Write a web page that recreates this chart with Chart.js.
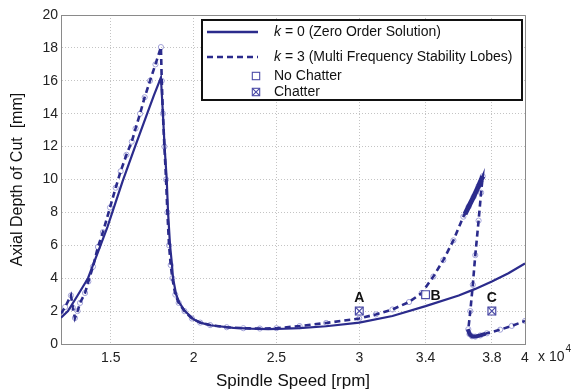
<!DOCTYPE html>
<html>
<head>
<meta charset="utf-8">
<script src="https://cdn.jsdelivr.net/npm/chart.js@4.4.1/dist/chart.umd.min.js"></script>
<style>
body{margin:0;background:#fff}
#wrap{width:573px;height:392px}
</style>
</head>
<body>
<div id="wrap"><canvas id="chart"></canvas></div>
<script>

// ------------------------------
// DATA (speed in x10^4 rpm, depth in mm)
// ------------------------------

const speedTicks = [1.5, 2, 2.5, 3, 3.4, 3.8, 4]

// k = 0, zero order solution
const k0Speed = [1.20,1.242,1.30,1.363,1.435,1.48,1.526,1.572,1.647,1.72,1.76,1.803,
    1.815,1.825,1.838,1.846,1.858,1.868,1.876,1.895,1.915,1.948,2.00,2.04,2.10,2.24,2.35,2.45,2.55,2.64,2.80,3.00,3.20,3.40,3.60,3.70,3.80,3.90,4.00]
const k0Depth = [1.6,2.0,2.95,4.0,5.9,7.1,8.5,9.9,12.0,14.0,15.1,16.2,
    14.0,12.0,10.0,8.0,6.0,5.0,4.0,3.0,2.5,2.0,1.5,1.3,1.14,0.98,0.93,0.91,0.93,0.97,1.08,1.3,1.7,2.3,2.95,3.35,3.8,4.3,4.9]

// k = 3, multi frequency stability lobes
const k3Speed = [1.20,1.225,1.26,1.272,1.284,1.30,1.315,1.345,1.365,1.393,1.423,1.453,1.496,1.53,1.56,1.595,1.627,1.65,1.677,1.705,1.737,1.77,1.803,
    1.808,1.815,1.824,1.834,1.842,1.852,1.862,1.872,1.89,1.91,1.945,1.99,2.04,2.10,2.20,2.30,2.40,2.50,2.64,2.80,3.00,3.10,3.20,3.30,3.377,3.447,3.507,3.568,3.628,3.66,3.69,3.72,3.745,
    3.735,3.72,3.70,3.685,3.67,3.658,3.665,3.68,3.70,3.73,3.77,3.85,3.92,4.00]
const k3Depth = [1.85,2.25,2.95,2.2,1.58,2.0,2.5,3.1,3.8,4.7,5.9,6.8,8.3,9.5,10.5,11.5,12.3,13.1,14.0,15.0,16.0,17.0,18.05,
    16.0,14.0,12.0,10.0,8.0,6.0,4.8,4.0,3.0,2.5,2.0,1.55,1.3,1.15,1.02,0.96,0.94,0.96,1.09,1.28,1.55,1.8,2.1,2.55,3.1,4.1,5.1,6.3,7.74,8.35,8.95,9.6,10.2,
    9.2,7.5,5.4,3.6,2.0,0.9,0.6,0.47,0.45,0.52,0.65,0.87,1.1,1.4]

// dense parts of the k = 3 curve (many overlapping points)
const peakBandSpeed = [3.638,3.66,3.69,3.72,3.745]
const peakBandDepth = [7.9,8.35,8.95,9.6,10.2]
const troughBandSpeed = [3.655,3.665,3.68,3.70,3.73,3.76]
const troughBandDepth = [0.9,0.6,0.47,0.45,0.52,0.62]

// cutting tests
const testLabels = ["A","B","C"]
const testSpeed = [3.0, 3.4, 3.8]
const testDepth = [2.0, 3.0, 2.0]
const testChatter = [true, false, true]

// ------------------------------
// STYLE
// ------------------------------

const NAVY = "#2b2b8c"
const LAVENDER = "#a3a3d8"
const FONT = '"Liberation Sans", Arial, sans-serif'

Chart.defaults.font.family = FONT

const pts = (xs, ys) => xs.map((x,i) => ({x:x, y:ys[i]}))

// ------------------------------
// PLUGINS
// ------------------------------

const framePlugin = {
    id:"frame",
    beforeDatasetsDraw(chart){
        const {ctx, chartArea:a} = chart
        ctx.save()
        ctx.strokeStyle = "#8a8a8a"
        ctx.lineWidth = 1
        ctx.beginPath()
        ctx.moveTo(a.left, a.top + 0.5)
        ctx.lineTo(a.right + 0.5, a.top + 0.5)
        ctx.lineTo(a.right + 0.5, a.bottom)
        ctx.stroke()
        ctx.restore()
    }
}

const labelPlugin = {
    id:"testLabels",
    afterDatasetsDraw(chart){
        const {ctx, scales} = chart
        ctx.save()
        ctx.font = "bold 14px " + FONT
        ctx.fillStyle = "#111"
        ctx.textBaseline = "middle"
        testLabels.forEach((t,i) => {
            const px = scales.x.getPixelForValue(testSpeed[i])
            const py = scales.y.getPixelForValue(testDepth[i])
            if(t === "B"){
                ctx.textAlign = "left"
                ctx.fillText(t, px + 5, py + 1)
            } else {
                ctx.textAlign = "center"
                ctx.fillText(t, px, py - 13)
            }
        })

        // exponent label of the x axis
        ctx.font = "14px " + FONT
        ctx.textAlign = "left"
        ctx.fillStyle = "#222"
        ctx.fillText("x 10", 538, 357)
        const w = ctx.measureText("x 10").width
        ctx.font = "10px " + FONT
        ctx.fillText("4", 538 + w + 1, 349)
        ctx.restore()
    }
}

function drawSquare(ctx, x, y, cross){
    const s = 3.7
    ctx.strokeStyle = "#4b4ba6"
    ctx.lineWidth = 1.1
    ctx.strokeRect(x - s, y - s, 2*s, 2*s)
    if(cross){
        ctx.beginPath()
        ctx.moveTo(x - s, y - s); ctx.lineTo(x + s, y + s)
        ctx.moveTo(x + s, y - s); ctx.lineTo(x - s, y + s)
        ctx.stroke()
    }
}

function drawKText(ctx, rest, x, y){
    ctx.font = "italic 14px " + FONT
    ctx.fillText("k", x, y)
    const w = ctx.measureText("k").width
    ctx.font = "14px " + FONT
    ctx.fillText(rest, x + w, y)
}

const legendPlugin = {
    id:"lobeLegend",
    afterDraw(chart){
        const ctx = chart.ctx
        ctx.save()
        ctx.fillStyle = "#fff"
        ctx.fillRect(202, 20, 320, 80)
        ctx.strokeStyle = "#111"
        ctx.lineWidth = 2
        ctx.strokeRect(202, 20, 320, 80)

        ctx.strokeStyle = NAVY
        ctx.lineWidth = 2.4
        ctx.beginPath(); ctx.moveTo(207, 32); ctx.lineTo(258, 32); ctx.stroke()
        ctx.lineWidth = 2.6
        ctx.setLineDash([6,4])
        ctx.beginPath(); ctx.moveTo(207, 57); ctx.lineTo(258, 57); ctx.stroke()
        ctx.setLineDash([])

        drawSquare(ctx, 256, 76, false)
        drawSquare(ctx, 256, 92, true)

        ctx.fillStyle = "#111"
        ctx.textBaseline = "middle"
        ctx.textAlign = "left"
        drawKText(ctx, " = 0 (Zero Order Solution)", 274, 32)
        drawKText(ctx, " = 3 (Multi Frequency Stability Lobes)", 274, 57)
        ctx.font = "14px " + FONT
        ctx.fillText("No Chatter", 274, 76)
        ctx.fillText("Chatter", 274, 92)
        ctx.restore()
    }
}

// ------------------------------
// CHART
// ------------------------------

const testPoints = pts(testSpeed, testDepth)
const chatterPoints = testPoints.filter((p,i) => testChatter[i])

const chart = new Chart(document.getElementById("chart"), {
    type:"scatter",
    data:{
        datasets:[
            {
                label:"k = 0",
                data:pts(k0Speed, k0Depth),
                showLine:true,
                borderColor:NAVY,
                borderWidth:2.2,
                pointRadius:0,
                tension:0,
                order:0
            },
            {
                label:"k = 3",
                data:pts(k3Speed, k3Depth),
                showLine:true,
                borderColor:NAVY,
                borderWidth:2.6,
                borderDash:[6,4],
                pointRadius:0,
                tension:0,
                order:1
            },
            {
                label:"k = 3 dense peak",
                data:pts(peakBandSpeed, peakBandDepth),
                showLine:true,
                borderColor:NAVY,
                borderWidth:5,
                pointRadius:0,
                order:2
            },
            {
                label:"k = 3 dense trough",
                data:pts(troughBandSpeed, troughBandDepth),
                showLine:true,
                borderColor:NAVY,
                borderWidth:4,
                pointRadius:0,
                order:2
            },
            {
                label:"k = 3 points",
                data:pts(k3Speed, k3Depth),
                showLine:false,
                pointStyle:"circle",
                pointRadius:2.6,
                pointBorderWidth:1,
                pointBorderColor:LAVENDER,
                pointBackgroundColor:"rgba(255,255,255,0)",
                order:3
            },
            {
                label:"tests",
                data:testPoints,
                pointStyle:"rect",
                pointRadius:5.5,
                pointBorderWidth:1.2,
                pointBorderColor:"#4b4ba6",
                pointBackgroundColor:"rgba(255,255,255,0.9)",
                order:-1
            },
            {
                label:"chatter",
                data:chatterPoints,
                pointStyle:"crossRot",
                pointRadius:5.5,
                pointBorderWidth:1.1,
                pointBorderColor:"#4b4ba6",
                order:-2
            }
        ]
    },
    options:{
        responsive:true,
        maintainAspectRatio:false,
        animation:false,
        layout:{padding:{left:0, right:48, top:15, bottom:0}},
        plugins:{
            legend:{display:false},
            tooltip:{enabled:false}
        },
        scales:{
            x:{
                type:"linear",
                min:1.2,
                max:4.0,
                afterBuildTicks:(scale) => { scale.ticks = speedTicks.map(v => ({value:v})) },
                afterFit:(scale) => { scale.height = 48 },
                ticks:{
                    autoSkip:false,
                    maxRotation:0,
                    padding:6,
                    color:"#222",
                    font:{size:14},
                    callback:(v) => String(v)
                },
                grid:{color:"#c4c4c4", drawTicks:false},
                border:{color:"#8a8a8a", dash:[1,2]},
                title:{
                    display:true,
                    text:"Spindle Speed [rpm]",
                    color:"#111",
                    font:{size:17},
                    padding:{top:0, bottom:0}
                }
            },
            y:{
                min:0,
                max:20,
                afterFit:(scale) => { scale.width = 61 },
                ticks:{
                    stepSize:2,
                    padding:3,
                    color:"#222",
                    font:{size:14}
                },
                grid:{color:"#c4c4c4", drawTicks:false},
                border:{color:"#8a8a8a", dash:[1,2]},
                title:{
                    display:true,
                    text:"Axial Depth of Cut  [mm]",
                    color:"#111",
                    font:{size:16},
                    padding:{top:8, bottom:0}
                }
            }
        }
    },
    plugins:[framePlugin, labelPlugin, legendPlugin]
})

</script>
</body>
</html>
